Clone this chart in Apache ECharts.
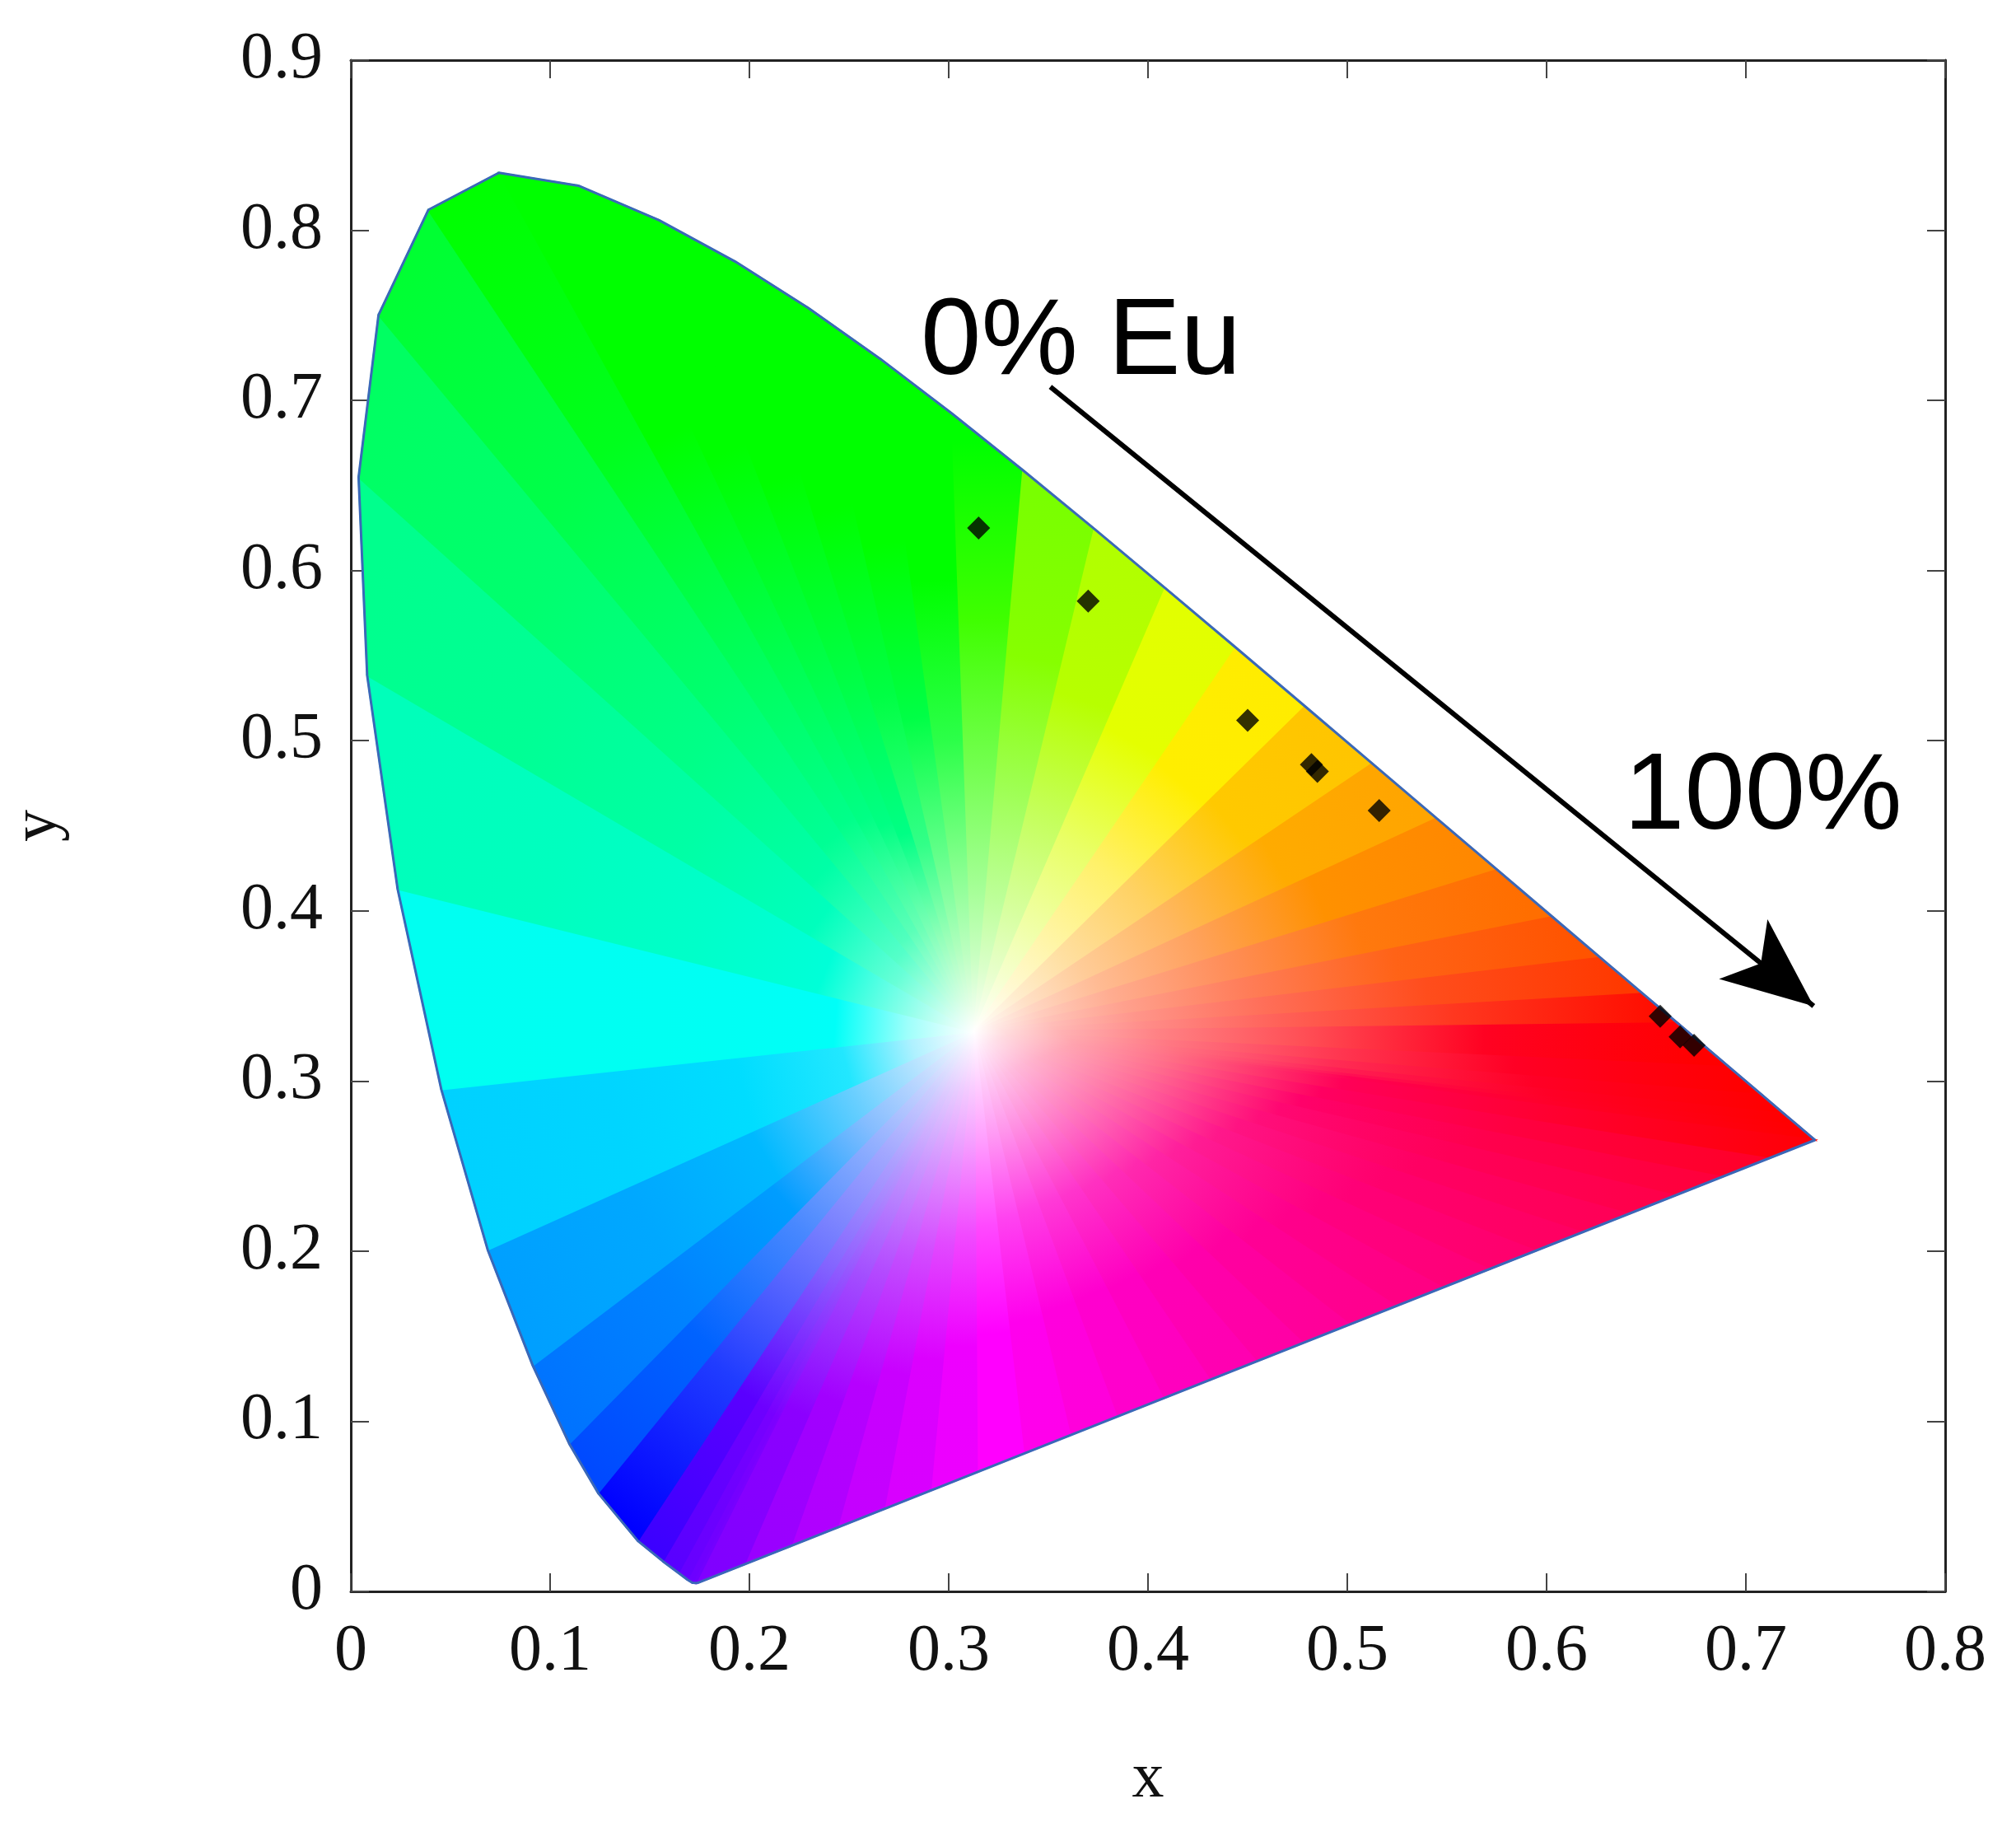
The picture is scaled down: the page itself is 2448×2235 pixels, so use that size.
<!DOCTYPE html>
<html>
<head>
<meta charset="utf-8">
<script src="https://cdn.jsdelivr.net/npm/echarts@6/dist/echarts.min.js"></script>
<style>html,body{margin:0;padding:0;background:#fff}#c{width:2448px;height:2235px}</style>
</head>
<body>
<div id="c"></div>
<script>
// CIE 1931 spectral locus (x, y), 380-700 nm
var locusX = [0.1741,0.1733,0.1714,0.1689,0.1644,0.1566,0.1440,0.1241,0.1096,0.0913,0.0687,0.0454,0.0235,0.0082,0.0039,0.0139,0.0389,0.0743,0.1142,0.1547,0.1929,0.2296,0.2658,0.3016,0.3373,0.3731,0.4087,0.4441,0.4788,0.5125,0.5448,0.5752,0.6029,0.6270,0.6482,0.6658,0.6915,0.7079,0.7190,0.7260,0.7300,0.7334,0.7347];
var locusY = [0.0050,0.0048,0.0051,0.0069,0.0109,0.0177,0.0297,0.0578,0.0868,0.1327,0.2007,0.2950,0.4127,0.5384,0.6548,0.7502,0.8120,0.8338,0.8262,0.8059,0.7816,0.7543,0.7243,0.6923,0.6589,0.6245,0.5896,0.5547,0.5202,0.4866,0.4544,0.4242,0.3965,0.3725,0.3514,0.3340,0.3083,0.2920,0.2809,0.2740,0.2700,0.2666,0.2653];
// measured sample chromaticities
var sampleX = [0.315,0.370,0.450,0.482,0.485,0.516,0.657,0.667,0.674];
var sampleY = [0.625,0.582,0.512,0.486,0.482,0.459,0.338,0.326,0.321];
var xTicks = [0,0.1,0.2,0.3,0.4,0.5,0.6,0.7,0.8];
var yTicks = [0,0.1,0.2,0.3,0.4,0.5,0.6,0.7,0.8,0.9];
var arrowFrom = [0.351, 0.708], arrowTo = [0.734, 0.344];
var whitePt = [0.3127, 0.329];

// boundary incl. subdivided purple line
var bnd = [];
for (var i = 0; i < locusX.length; i++) bnd.push([locusX[i], locusY[i]]);
var a = bnd[bnd.length - 1], b = bnd[0];
for (var k = 1; k < 24; k++) { var t = k / 24; bnd.push([a[0] + (b[0] - a[0]) * t, a[1] + (b[1] - a[1]) * t]); }

function xyColor(x, y) {
  var X = x / y, Y = 1, Z = (1 - x - y) / y;
  var r = 3.2406 * X - 1.5372 * Y - 0.4986 * Z;
  var g = -0.9689 * X + 1.8758 * Y + 0.0415 * Z;
  var bl = 0.0557 * X - 0.2040 * Y + 1.0570 * Z;
  r = Math.max(r, 0); g = Math.max(g, 0); bl = Math.max(bl, 0);
  var m = Math.max(r, g, bl);
  function gm(v) { v = v / m; v = v <= 0.0031308 ? 12.92 * v : 1.055 * Math.pow(v, 1 / 2.4) - 0.055; return Math.round(Math.min(1, v) * 255); }
  return 'rgb(' + gm(r) + ',' + gm(g) + ',' + gm(bl) + ')';
}

var tri = bnd.map(function (p, i) { return [i]; });
var chart = echarts.init(document.getElementById('c'));
var font = '"Liberation Serif", "Times New Roman", serif';
function axis(ticks, name, pos, show) {
  return {
    type: 'value', min: 0, max: ticks[ticks.length - 1], interval: 0.1, position: pos,
    name: show ? name : '', nameLocation: 'middle',
    nameGap: name === 'x' ? 190 : 340,
    nameTextStyle: { fontFamily: font, fontSize: 78, color: '#111' },
    axisLine: { show: true, onZero: false, lineStyle: { color: '#222', width: 3 } },
    axisTick: { show: true, inside: true, length: 22, lineStyle: { color: '#444', width: 2 } },
    axisLabel: { show: show, fontFamily: font, fontSize: 80, color: '#111', margin: 34,
      formatter: function (v) { return String(+v.toFixed(1)); } },
    splitLine: { show: false }
  };
}
chart.setOption({
  animation: false,
  grid: { left: 421, right: 86, top: 73, bottom: 303 },
  xAxis: [axis(xTicks, 'x', 'bottom', true), axis(xTicks, '', 'top', false)],
  yAxis: [axis(yTicks, 'y', 'left', true), axis(yTicks, '', 'right', false)],
  series: [
    {
      type: 'custom', data: tri, z: 1,
      renderItem: function (params, api) {
        var i = api.value(0);
        var p1 = bnd[i], p2 = bnd[(i + 1) % bnd.length];
        var W = api.coord(whitePt), A = api.coord(p1), B = api.coord(p2);
        var mx = (p1[0] + p2[0]) / 2, my = (p1[1] + p2[1]) / 2;
        var M = api.coord([mx, my]);
        var stops = [0, 0.3, 0.55, 0.75, 0.88, 0.96, 1].map(function (t) {
          var s = Math.pow(t, 1.6);
          var x = mx + (whitePt[0] - mx) * s, y = my + (whitePt[1] - my) * s;
          return { offset: t, color: xyColor(x, y) };
        });
        var grad = new echarts.graphic.LinearGradient(M[0], M[1], W[0], W[1], stops, true);
        return { type: 'polygon', shape: { points: [W, A, B] },
          style: { fill: grad, stroke: grad, lineWidth: 2 } };
      }
    },
    {
      type: 'line', data: locusX.map(function (x, i) { return [x, locusY[i]]; }).concat([[locusX[0], locusY[0]]]),
      symbol: 'none', z: 2, lineStyle: { color: '#3a68b8', width: 3 },
      markLine: {
        silent: true, symbol: ['none', 'arrow'], symbolSize: [70, 110],
        lineStyle: { color: '#000', width: 6, type: 'solid' }, label: { show: false },
        data: [[{ coord: arrowFrom }, { coord: arrowTo }]]
      }
    },
    {
      type: 'scatter', z: 3, symbol: 'diamond', symbolSize: 28,
      itemStyle: { color: '#000' },
      data: sampleX.map(function (x, i) { return [x, sampleY[i]]; })
    }
  ],
  graphic: [
    { type: 'text', left: 1118, top: 352, style: { text: '0% Eu', font: '132px "Liberation Sans", Arial, sans-serif', fill: '#000' } },
    { type: 'text', left: 1972, top: 904, style: { text: '100%', font: '132px "Liberation Sans", Arial, sans-serif', fill: '#000' } }
  ]
});
</script>
</body>
</html>
